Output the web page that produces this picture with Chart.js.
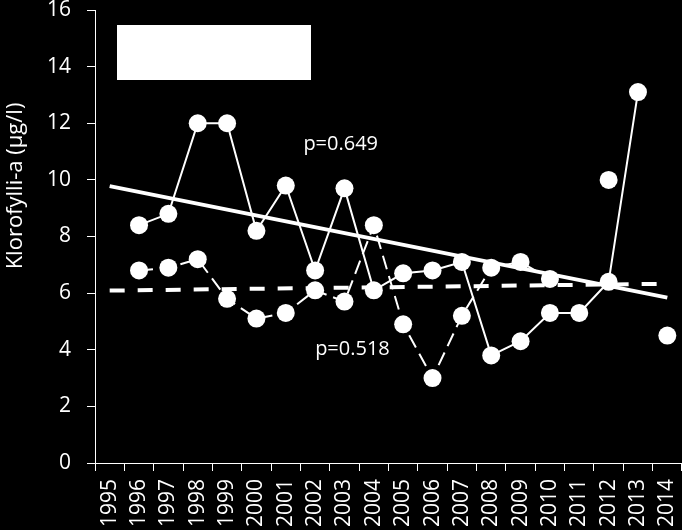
<!DOCTYPE html>
<html lang="fi">
  <head>
    <meta charset="UTF-8" />
    <title>Klorofylli-a</title>
    <script src="https://cdn.jsdelivr.net/npm/chart.js"></script>
    <style>
      html, body { margin: 0; padding: 0; background: #000; }
      canvas { display: block; }
    </style>
  </head>
  <body>
    <canvas id="chart" width="682" height="530"></canvas>

    <script>
      // data
      const years = ["1995", "1996", "1997", "1998", "1999", "2000", "2001", "2002", "2003", "2004",
        "2005", "2006", "2007", "2008", "2009", "2010", "2011", "2012", "2013", "2014"];
      const seriesSolid = [null, 8.4, 8.8, 12.0, 12.0, 8.2, 9.8, 6.8, 9.7, 6.1,
        6.7, 6.8, 7.1, 3.8, 4.3, 5.3, 5.3, 6.4, 13.1, null];
      const seriesDashed = [null, 6.8, 6.9, 7.2, 5.8, 5.1, 5.3, 6.1, 5.7, 8.4,
        4.9, 3.0, 5.2, 6.9, 7.1, 6.5, null, 10.0, null, 4.5];
      // trend line ends (1995 and 2014)
      const trendSolid = [9.78, 5.84];
      const trendDashed = [6.09, 6.33];
      const yTicks = [0, 2, 4, 6, 8, 10, 12, 14, 16];
      const yTitle = "Klorofylli-a (µg/l)";
      // p-values: x in category units (left edge of text), y in µg/l
      const notes = [
        { text: "p=0.649", x: 6.6, y: 11.25 },
        { text: "p=0.518", x: 7.0, y: 4.0 },
      ];

      const FONT = "'Open Sans', 'Noto Sans', sans-serif";

      function trendPoints(ends) {
        return [
          { x: years[0], y: ends[0] },
          { x: years[years.length - 1], y: ends[1] },
        ];
      }

      // blank legend box, rotated y title, p-values
      const extras = {
        id: "extras",
        afterDraw(chart) {
          const ctx = chart.ctx;
          const xs = chart.scales.x;
          const ys = chart.scales.y;
          ctx.save();
          ctx.fillStyle = "#fff";
          ctx.fillRect(117, 25, 194, 55);

          ctx.font = "22px " + FONT;
          ctx.textAlign = "center";
          ctx.textBaseline = "middle";
          ctx.translate(16, 186);
          ctx.rotate(-Math.PI / 2);
          ctx.fillText(yTitle, 0, 0);
          ctx.restore();

          ctx.save();
          ctx.fillStyle = "#fff";
          ctx.font = "20px " + FONT;
          ctx.textAlign = "left";
          ctx.textBaseline = "middle";
          notes.forEach((n) => {
            ctx.fillText(n.text, xs.getPixelForValue(n.x), ys.getPixelForValue(n.y));
          });
          ctx.restore();
        },
      };

      const ctx = document.getElementById("chart").getContext("2d");
      new Chart(ctx, {
        type: "line",
        data: {
          labels: years,
          datasets: [
            {
              label: "trend 1",
              data: trendPoints(trendSolid),
              borderColor: "#fff",
              borderWidth: 4,
              pointRadius: 0,
              order: 3,
            },
            {
              label: "trend 2",
              data: trendPoints(trendDashed),
              borderColor: "#fff",
              borderWidth: 4,
              borderDash: [15, 13],
              pointRadius: 0,
              order: 3,
            },
            {
              label: "sarja 1",
              data: seriesSolid,
              borderColor: "#fff",
              borderWidth: 2,
              pointRadius: 9,
              pointBackgroundColor: "#fff",
              pointBorderWidth: 0,
              spanGaps: false,
              order: 1,
            },
            {
              label: "sarja 2",
              data: seriesDashed,
              borderColor: "#fff",
              borderWidth: 2,
              borderDash: [14, 7],
              pointRadius: 9,
              pointBackgroundColor: "#fff",
              pointBorderWidth: 0,
              spanGaps: false,
              order: 2,
            },
          ],
        },
        options: {
          responsive: false,
          animation: false,
          devicePixelRatio: 1,
          layout: { autoPadding: false, padding: { top: 10, right: 0, left: 0, bottom: 0 } },
          plugins: {
            legend: { display: false },
            tooltip: { enabled: false },
          },
          events: [],
          scales: {
            x: {
              offset: true,
              grid: {
                offset: true,
                drawOnChartArea: false,
                drawTicks: true,
                tickLength: 8,
                color: "#fff",
              },
              border: { color: "#fff", width: 1 },
              ticks: {
                color: "#fff",
                font: { family: FONT, size: 21 },
                maxRotation: 90,
                minRotation: 90,
                autoSkip: false,
                padding: 8,
              },
              afterFit(scale) {
                scale.height = 67;
                scale.paddingLeft = 0;
                scale.paddingRight = 0;
              },
            },
            y: {
              min: 0,
              max: 16,
              afterBuildTicks(scale) {
                scale.ticks = yTicks.map((v) => ({ value: v }));
              },
              grid: {
                drawOnChartArea: false,
                drawTicks: true,
                tickLength: 8,
                color: "#fff",
              },
              border: { color: "#fff", width: 1 },
              ticks: {
                color: "#fff",
                font: { family: FONT, size: 21 },
                padding: 16,
              },
              afterFit(scale) {
                scale.width = 95;
                scale.paddingTop = 0;
                scale.paddingBottom = 0;
              },
            },
          },
        },
        plugins: [extras],
      });
    </script>
  </body>
</html>
